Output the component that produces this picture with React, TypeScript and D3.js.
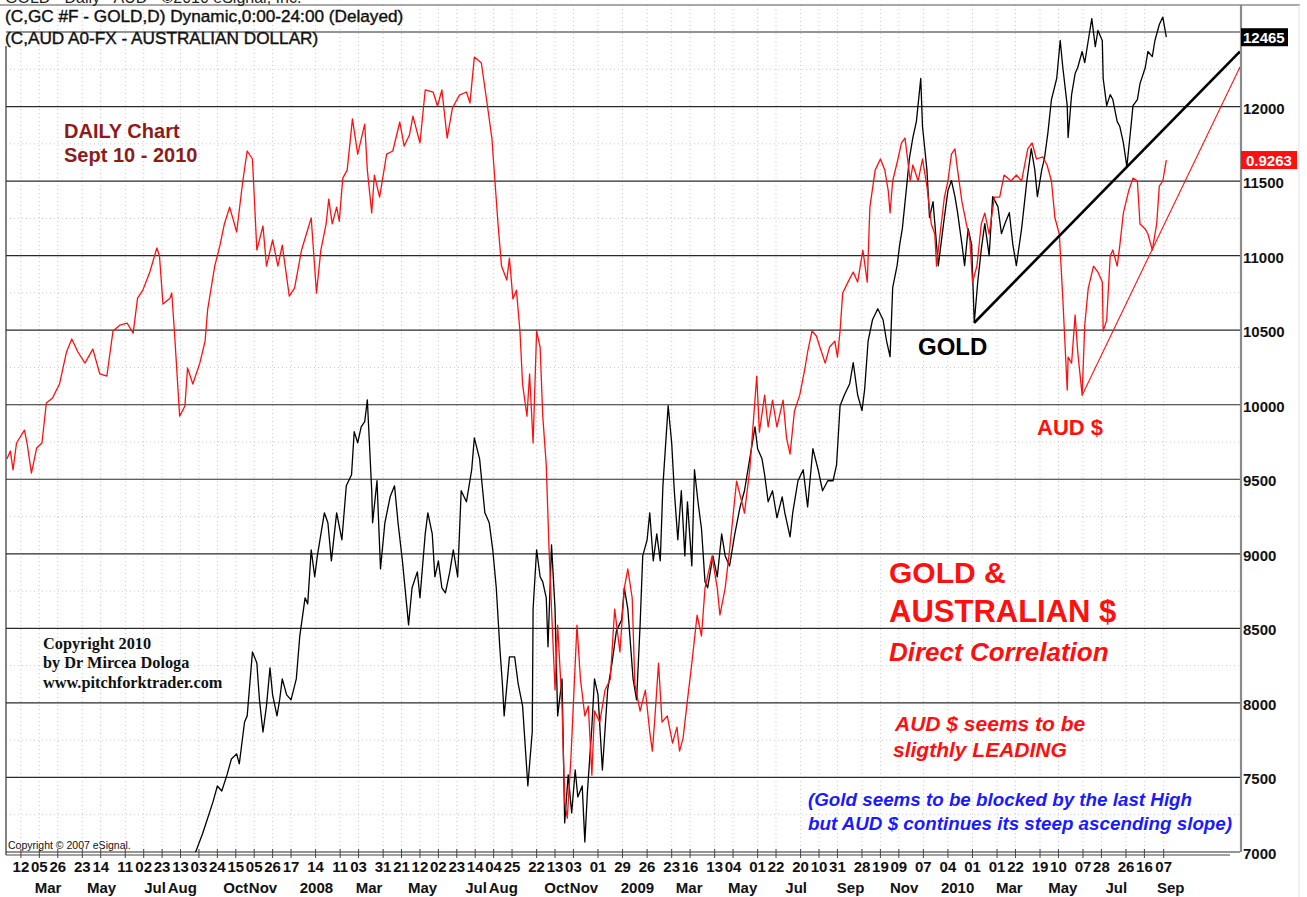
import React from "react";
import * as d3 from "d3";

// ---------- DATA ----------
// Gold futures (price x10, as on the right axis)
const goldSeries: [string, number][] = [
  ["2007-08-27", 6950], ["2007-09-07", 7121], ["2007-09-13", 7228], ["2007-09-19", 7336], ["2007-09-24", 7443],
  ["2007-09-29", 7409], ["2007-10-05", 7517], ["2007-10-10", 7624], ["2007-10-16", 7658], ["2007-10-19", 7591],
  ["2007-10-25", 7872], ["2007-10-28", 7913], ["2007-11-03", 8342], ["2007-11-08", 8268], ["2007-11-11", 8020],
  ["2007-11-15", 7805], ["2007-11-19", 7980], ["2007-11-23", 8235], ["2007-11-26", 8054], ["2007-12-01", 7913],
  ["2007-12-04", 8020], ["2007-12-07", 8161], ["2007-12-12", 8054], ["2007-12-17", 8020], ["2007-12-23", 8161],
  ["2007-12-27", 8450], ["2008-01-02", 8705], ["2008-01-05", 8664], ["2008-01-09", 9027], ["2008-01-13", 8846],
  ["2008-01-16", 8986], ["2008-01-24", 9275], ["2008-01-28", 9208], ["2008-02-01", 8953], ["2008-02-07", 9275],
  ["2008-02-13", 9094], ["2008-02-18", 9456], ["2008-02-24", 9530], ["2008-02-27", 9819], ["2008-03-02", 9745],
  ["2008-03-06", 9852], ["2008-03-10", 9886], ["2008-03-13", 10033], ["2008-03-18", 9423], ["2008-03-19", 9208],
  ["2008-03-24", 9490], ["2008-03-28", 8899], ["2008-04-02", 9208], ["2008-04-08", 9382], ["2008-04-13", 9456],
  ["2008-04-17", 9208], ["2008-04-22", 8953], ["2008-04-29", 8523], ["2008-05-03", 8772], ["2008-05-09", 8879],
  ["2008-05-12", 8705], ["2008-05-18", 9134], ["2008-05-21", 9275], ["2008-05-26", 9134], ["2008-05-29", 8846],
  ["2008-06-02", 8953], ["2008-06-06", 8772], ["2008-06-10", 8738], ["2008-06-15", 8879], ["2008-06-19", 9027],
  ["2008-06-24", 8846], ["2008-06-28", 9423], ["2008-07-04", 9349], ["2008-07-10", 9564], ["2008-07-13", 9778],
  ["2008-07-19", 9637], ["2008-07-25", 9275], ["2008-07-30", 9208], ["2008-08-03", 9027], ["2008-08-07", 8772],
  ["2008-08-11", 8376], ["2008-08-14", 8127], ["2008-08-16", 7913], ["2008-08-22", 8309], ["2008-08-28", 8309],
  ["2008-09-01", 8127], ["2008-09-06", 7980], ["2008-09-12", 7443], ["2008-09-17", 7805], ["2008-09-18", 8631],
  ["2008-09-22", 9027], ["2008-09-26", 8846], ["2008-09-29", 8812], ["2008-10-03", 8705], ["2008-10-05", 8376],
  ["2008-10-09", 9060], ["2008-10-13", 8631], ["2008-10-16", 7913], ["2008-10-21", 8161], ["2008-10-24", 7195],
  ["2008-10-28", 7517], ["2008-11-01", 7262], ["2008-11-05", 7550], ["2008-11-08", 7369], ["2008-11-13", 7443],
  ["2008-11-16", 7067], ["2008-11-19", 7409], ["2008-11-24", 7839], ["2008-11-27", 8161], ["2008-12-01", 8054],
  ["2008-12-06", 7550], ["2008-12-12", 8087], ["2008-12-17", 8268], ["2008-12-22", 8483], ["2008-12-28", 8557],
  ["2008-12-31", 8772], ["2009-01-04", 8631], ["2009-01-10", 8161], ["2009-01-14", 8020], ["2009-01-18", 8523],
  ["2009-01-21", 8986], ["2009-01-26", 9094], ["2009-01-29", 9275], ["2009-02-02", 8953], ["2009-02-06", 9134],
  ["2009-02-10", 8953], ["2009-02-13", 9456], ["2009-02-19", 9993], ["2009-02-23", 9745], ["2009-02-26", 9423],
  ["2009-03-02", 9094], ["2009-03-06", 9423], ["2009-03-10", 8986], ["2009-03-13", 9349], ["2009-03-18", 8919],
  ["2009-03-21", 9564], ["2009-03-25", 9349], ["2009-03-29", 9168], ["2009-04-02", 8812], ["2009-04-05", 8772],
  ["2009-04-11", 8986], ["2009-04-16", 8846], ["2009-04-21", 9134], ["2009-04-25", 8986], ["2009-04-30", 8919],
  ["2009-05-06", 9134], ["2009-05-12", 9315], ["2009-05-17", 9423], ["2009-05-23", 9637], ["2009-05-29", 9852],
  ["2009-06-01", 9705], ["2009-06-06", 9637], ["2009-06-09", 9530], ["2009-06-13", 9349], ["2009-06-18", 9423],
  ["2009-06-23", 9242], ["2009-06-29", 9382], ["2009-07-02", 9275], ["2009-07-08", 9114], ["2009-07-11", 9275],
  ["2009-07-17", 9490], ["2009-07-23", 9564], ["2009-07-28", 9315], ["2009-08-03", 9705], ["2009-08-09", 9564],
  ["2009-08-14", 9423], ["2009-08-20", 9490], ["2009-08-26", 9490], ["2009-08-30", 9597], ["2009-09-03", 9993],
  ["2009-09-08", 10067], ["2009-09-14", 10141], ["2009-09-18", 10282], ["2009-09-23", 10067], ["2009-09-28", 9960],
  ["2009-10-01", 10101], ["2009-10-05", 10429], ["2009-10-10", 10570], ["2009-10-16", 10644], ["2009-10-22", 10570],
  ["2009-10-26", 10429], ["2009-10-30", 10322], ["2009-11-02", 10785], ["2009-11-07", 10933], ["2009-11-10", 11074],
  ["2009-11-13", 11181], ["2009-11-18", 11470], ["2009-11-21", 11651], ["2009-11-25", 11792], ["2009-11-29", 11899],
  ["2009-12-04", 12188], ["2009-12-06", 11866], ["2009-12-11", 11577], ["2009-12-14", 11255], ["2009-12-18", 11362],
  ["2009-12-24", 10933], ["2009-12-30", 11215], ["2010-01-04", 11436], ["2010-01-08", 11503], ["2010-01-12", 11396],
  ["2010-01-15", 11288], ["2010-01-20", 11074], ["2010-01-23", 10933], ["2010-01-27", 11181], ["2010-01-31", 11074],
  ["2010-02-03", 10550], ["2010-02-07", 10825], ["2010-02-11", 11040], ["2010-02-15", 11215], ["2010-02-20", 11000],
  ["2010-02-24", 11396], ["2010-03-02", 11329], ["2010-03-06", 11147], ["2010-03-10", 11215], ["2010-03-15", 11288],
  ["2010-03-19", 11074], ["2010-03-23", 10933], ["2010-03-29", 11181], ["2010-04-04", 11503], ["2010-04-09", 11718],
  ["2010-04-13", 11577], ["2010-04-16", 11396], ["2010-04-21", 11577], ["2010-04-24", 11651], ["2010-04-28", 11825],
  ["2010-05-02", 12047], ["2010-05-08", 12188], ["2010-05-12", 12443], ["2010-05-15", 12262], ["2010-05-20", 12006],
  ["2010-05-21", 11792], ["2010-05-25", 12080], ["2010-05-29", 12221], ["2010-06-01", 12262], ["2010-06-06", 12369],
  ["2010-06-09", 12295], ["2010-06-13", 12443], ["2010-06-17", 12590], ["2010-06-21", 12402], ["2010-06-24", 12510],
  ["2010-06-29", 12443], ["2010-06-30", 12188], ["2010-07-04", 12006], ["2010-07-08", 12080], ["2010-07-11", 12047],
  ["2010-07-16", 11899], ["2010-07-19", 11866], ["2010-07-23", 11758], ["2010-07-27", 11597], ["2010-07-31", 11825],
  ["2010-08-03", 12006], ["2010-08-08", 12047], ["2010-08-11", 12154], ["2010-08-17", 12262], ["2010-08-20", 12369],
  ["2010-08-25", 12335], ["2010-08-28", 12443], ["2010-09-02", 12550], ["2010-09-06", 12600], ["2010-09-10", 12465],
];

// Australian dollar (AUD/USD)
const audSeries: [string, number][] = [
  ["2007-01-27", 0.7808], ["2007-01-31", 0.7847], ["2007-02-03", 0.7755], ["2007-02-07", 0.7886], ["2007-02-16", 0.7949],
  ["2007-02-19", 0.7886], ["2007-02-24", 0.7740], ["2007-03-02", 0.7862], ["2007-03-08", 0.7886], ["2007-03-13", 0.8081],
  ["2007-03-20", 0.8105], ["2007-03-28", 0.8173], ["2007-04-05", 0.8329], ["2007-04-11", 0.8392], ["2007-04-18", 0.8329],
  ["2007-04-26", 0.8275], ["2007-05-05", 0.8343], ["2007-05-13", 0.8222], ["2007-05-21", 0.8212], ["2007-05-28", 0.8431],
  ["2007-06-05", 0.8460], ["2007-06-13", 0.8470], ["2007-06-20", 0.8421], ["2007-06-25", 0.8591], ["2007-07-01", 0.8630],
  ["2007-07-09", 0.8718], ["2007-07-17", 0.8835], ["2007-07-20", 0.8796], ["2007-07-24", 0.8562], ["2007-08-01", 0.8591],
  ["2007-08-03", 0.8616], ["2007-08-06", 0.8431], ["2007-08-12", 0.8017], ["2007-08-18", 0.8066], ["2007-08-21", 0.8251],
  ["2007-08-27", 0.8173], ["2007-09-04", 0.8275], ["2007-09-10", 0.8382], ["2007-09-13", 0.8538], ["2007-09-21", 0.8747],
  ["2007-09-27", 0.8849], ["2007-10-02", 0.8952], ["2007-10-08", 0.9034], ["2007-10-16", 0.8913], ["2007-10-23", 0.9161],
  ["2007-10-28", 0.9307], ["2007-11-03", 0.9268], ["2007-11-08", 0.8825], ["2007-11-15", 0.8942], ["2007-11-19", 0.8747],
  ["2007-11-26", 0.8874], ["2007-12-02", 0.8747], ["2007-12-07", 0.8849], ["2007-12-15", 0.8601], ["2007-12-21", 0.8640],
  ["2007-12-29", 0.8825], ["2008-01-09", 0.8981], ["2008-01-15", 0.8616], ["2008-01-20", 0.8825], ["2008-01-26", 0.8952],
  ["2008-01-29", 0.9073], ["2008-02-02", 0.8952], ["2008-02-07", 0.9034], ["2008-02-10", 0.8966], ["2008-02-14", 0.9175],
  ["2008-02-19", 0.9214], ["2008-02-25", 0.9463], ["2008-03-02", 0.9292], ["2008-03-10", 0.9438], ["2008-03-13", 0.9214],
  ["2008-03-18", 0.9005], ["2008-03-21", 0.9190], ["2008-03-27", 0.9083], ["2008-04-04", 0.9292], ["2008-04-11", 0.9307],
  ["2008-04-19", 0.9448], ["2008-04-24", 0.9331], ["2008-04-30", 0.9385], ["2008-05-04", 0.9477], ["2008-05-12", 0.9346],
  ["2008-05-18", 0.9604], ["2008-05-27", 0.9594], ["2008-06-01", 0.9526], ["2008-06-06", 0.9604], ["2008-06-12", 0.9370],
  ["2008-06-18", 0.9516], ["2008-06-26", 0.9579], ["2008-07-04", 0.9594], ["2008-07-08", 0.9540], ["2008-07-13", 0.9764],
  ["2008-07-21", 0.9735], ["2008-07-27", 0.9555], ["2008-08-02", 0.9370], ["2008-08-05", 0.9190], ["2008-08-09", 0.8952],
  ["2008-08-13", 0.8747], ["2008-08-19", 0.8679], ["2008-08-22", 0.8786], ["2008-08-26", 0.8587], ["2008-08-30", 0.8630],
  ["2008-09-03", 0.8431], ["2008-09-06", 0.8173], ["2008-09-11", 0.8017], ["2008-09-14", 0.8222], ["2008-09-18", 0.7886],
  ["2008-09-22", 0.8431], ["2008-09-26", 0.8353], ["2008-09-29", 0.8017], ["2008-10-03", 0.7779], ["2008-10-06", 0.7390],
  ["2008-10-09", 0.7078], ["2008-10-13", 0.6684], ["2008-10-16", 0.7000], ["2008-10-21", 0.6606], ["2008-10-24", 0.6139],
  ["2008-10-27", 0.6061], ["2008-10-31", 0.6343], ["2008-11-07", 0.7000], ["2008-11-11", 0.6737], ["2008-11-16", 0.6558],
  ["2008-11-20", 0.6606], ["2008-11-24", 0.6270], ["2008-11-27", 0.6582], ["2008-12-03", 0.6528], ["2008-12-09", 0.6684],
  ["2008-12-15", 0.6737], ["2008-12-20", 0.7078], ["2008-12-26", 0.6869], ["2008-12-31", 0.7180], ["2009-01-04", 0.7273],
  ["2009-01-09", 0.7132], ["2009-01-12", 0.6713], ["2009-01-18", 0.6582], ["2009-01-24", 0.6684], ["2009-01-29", 0.6480],
  ["2009-02-01", 0.6387], ["2009-02-04", 0.6558], ["2009-02-08", 0.6815], ["2009-02-12", 0.6528], ["2009-02-18", 0.6558],
  ["2009-02-24", 0.6426], ["2009-03-01", 0.6504], ["2009-03-04", 0.6387], ["2009-03-08", 0.6450], ["2009-03-13", 0.6635],
  ["2009-03-18", 0.6815], ["2009-03-24", 0.7049], ["2009-03-29", 0.6947], ["2009-04-02", 0.7180], ["2009-04-10", 0.7336],
  ["2009-04-16", 0.7180], ["2009-04-19", 0.7049], ["2009-04-25", 0.7180], ["2009-04-30", 0.7365], ["2009-05-08", 0.7701],
  ["2009-05-14", 0.7599], ["2009-05-17", 0.7545], ["2009-05-23", 0.7755], ["2009-05-31", 0.8212], ["2009-06-03", 0.7939],
  ["2009-06-09", 0.8119], ["2009-06-13", 0.7964], ["2009-06-18", 0.8095], ["2009-06-23", 0.7964], ["2009-06-30", 0.8095],
  ["2009-07-04", 0.7910], ["2009-07-08", 0.7832], ["2009-07-13", 0.8042], ["2009-07-19", 0.8119], ["2009-07-25", 0.8251],
  ["2009-07-28", 0.8329], ["2009-08-02", 0.8431], ["2009-08-07", 0.8407], ["2009-08-11", 0.8353], ["2009-08-17", 0.8275],
  ["2009-08-22", 0.8353], ["2009-08-28", 0.8382], ["2009-08-31", 0.8304], ["2009-09-03", 0.8431], ["2009-09-06", 0.8616],
  ["2009-09-12", 0.8669], ["2009-09-18", 0.8718], ["2009-09-23", 0.8669], ["2009-09-29", 0.8825], ["2009-10-04", 0.8669],
  ["2009-10-07", 0.9034], ["2009-10-13", 0.9214], ["2009-10-19", 0.9268], ["2009-10-24", 0.9214], ["2009-10-28", 0.9112],
  ["2009-10-30", 0.9005], ["2009-11-02", 0.9161], ["2009-11-08", 0.9268], ["2009-11-12", 0.9346], ["2009-11-16", 0.9370],
  ["2009-11-19", 0.9268], ["2009-11-22", 0.9161], ["2009-11-25", 0.9239], ["2009-12-01", 0.9161], ["2009-12-06", 0.9268],
  ["2009-12-11", 0.9136], ["2009-12-16", 0.8952], ["2009-12-20", 0.8903], ["2009-12-22", 0.8747], ["2009-12-26", 0.8903],
  ["2009-12-31", 0.9083], ["2010-01-04", 0.9161], ["2010-01-08", 0.9292], ["2010-01-12", 0.9317], ["2010-01-15", 0.9214],
  ["2010-01-20", 0.9059], ["2010-01-25", 0.8952], ["2010-01-29", 0.8874], ["2010-02-01", 0.8669], ["2010-02-06", 0.8747],
  ["2010-02-11", 0.8952], ["2010-02-15", 0.9005], ["2010-02-20", 0.8903], ["2010-02-26", 0.9083], ["2010-03-04", 0.9083],
  ["2010-03-09", 0.9190], ["2010-03-17", 0.9161], ["2010-03-23", 0.9190], ["2010-03-29", 0.9161], ["2010-04-05", 0.9317],
  ["2010-04-10", 0.9346], ["2010-04-15", 0.9268], ["2010-04-22", 0.9278], ["2010-04-27", 0.9239], ["2010-05-02", 0.9161],
  ["2010-05-06", 0.8981], ["2010-05-11", 0.8903], ["2010-05-15", 0.8587], ["2010-05-20", 0.8144], ["2010-05-21", 0.8304],
  ["2010-05-25", 0.8275], ["2010-05-29", 0.8509], ["2010-06-01", 0.8329], ["2010-06-06", 0.8119], ["2010-06-09", 0.8460],
  ["2010-06-13", 0.8640], ["2010-06-19", 0.8747], ["2010-06-24", 0.8718], ["2010-06-29", 0.8669], ["2010-06-30", 0.8431],
  ["2010-07-04", 0.8484], ["2010-07-08", 0.8796], ["2010-07-11", 0.8825], ["2010-07-16", 0.8747], ["2010-07-19", 0.8849],
  ["2010-07-23", 0.9005], ["2010-07-29", 0.9112], ["2010-08-03", 0.9175], ["2010-08-08", 0.9161], ["2010-08-11", 0.8952],
  ["2010-08-17", 0.8927], ["2010-08-20", 0.8903], ["2010-08-25", 0.8825], ["2010-08-30", 0.8952], ["2010-09-02", 0.9136],
  ["2010-09-06", 0.9161], ["2010-09-10", 0.9263],
];

// Trend lines drawn on the chart
const goldTrend: [string, number][] = [["2010-02-03", 10550], ["2010-12-03", 12370]];
const audTrend: [string, number][] = [["2010-06-06", 0.8119], ["2010-12-03", 0.9716]];

// Axis ticks / labels
const priceTicks = [7000, 7500, 8000, 8500, 9000, 9500, 10000, 10500, 11000, 11500, 12000, 12500];
const dayTicks = [
  "2007-02-12", "2007-03-05", "2007-03-26", "2007-04-23", "2007-05-14", "2007-06-11", "2007-07-02", "2007-07-23",
  "2007-08-13", "2007-09-03", "2007-09-24", "2007-10-15", "2007-11-05", "2007-11-26", "2007-12-17",
  "2008-01-14", "2008-02-11", "2008-03-03", "2008-03-31", "2008-04-21", "2008-05-12", "2008-06-02", "2008-06-23",
  "2008-07-14", "2008-08-04", "2008-08-25", "2008-09-22", "2008-10-13", "2008-11-03", "2008-12-01", "2008-12-29",
  "2009-01-26", "2009-02-23", "2009-03-16", "2009-04-13", "2009-05-04", "2009-06-01", "2009-06-22", "2009-07-20",
  "2009-08-10", "2009-08-31", "2009-09-28", "2009-10-19", "2009-11-09", "2009-12-07",
  "2010-01-04", "2010-02-01", "2010-03-01", "2010-03-22", "2010-04-19", "2010-05-10", "2010-06-07", "2010-06-28",
  "2010-07-26", "2010-08-16", "2010-09-07",
];
const monthLabels: [string, string][] = [
  ["2007-03-15", "Mar"], ["2007-05-15", "May"], ["2007-07-15", "Jul"], ["2007-08-15", "Aug"], ["2007-10-15", "Oct"],
  ["2007-11-15", "Nov"], ["2008-01-15", "2008"], ["2008-03-15", "Mar"], ["2008-05-15", "May"], ["2008-07-15", "Jul"],
  ["2008-08-15", "Aug"], ["2008-10-15", "Oct"], ["2008-11-15", "Nov"], ["2009-01-15", "2009"], ["2009-03-15", "Mar"],
  ["2009-05-15", "May"], ["2009-07-15", "Jul"], ["2009-09-15", "Sep"], ["2009-11-15", "Nov"], ["2010-01-15", "2010"],
  ["2010-03-15", "Mar"], ["2010-05-15", "May"], ["2010-07-15", "Jul"], ["2010-09-15", "Sep"],
];
const lastGold = 12465;
const lastAud = 0.9263;

// ---------- CHART ----------
const W = 1307;
const H = 897;
const SANS = "'Liberation Sans', Arial, Helvetica, sans-serif";
const SERIF = "'Liberation Serif', 'Times New Roman', serif";
const RED = "#ff1010";

export default function App() {
  const left = 6, right = 1240, top = 32, bottom = 852, frameTop = 5;
  const parse = d3.utcParse("%Y-%m-%d");
  const x = d3.scaleUtc().domain([parse("2007-01-26")!, parse("2010-12-03")!]).range([left, right]);
  const y = d3.scaleLinear().domain([7000, 12500]).range([bottom, top]);
  const ya = d3.scaleLinear().domain([0.5896, 0.9886]).range([bottom, top]);

  const goldLine = d3.line<[string, number]>().x((d) => x(parse(d[0])!)).y((d) => y(d[1]));
  const audLine = d3.line<[string, number]>().x((d) => x(parse(d[0])!)).y((d) => ya(d[1]));

  const minorTicks = d3.range(7250, 12500, 500);
  // the top level label is covered by the last-price box, as in the reference
  const axisLabels = priceTicks.filter((v) => Math.abs(y(v) - y(lastGold)) > 14);

  return (
    <div style={{ position: "absolute", left: 0, top: 0, width: W, height: H, background: "#fff" }}>
      <svg width={W} height={H} viewBox={`0 0 ${W} ${H}`} style={{ display: "block" }}>
        <defs>
          <clipPath id="plot">
            <rect x={left} y={frameTop} width={right - left} height={bottom - frameTop} />
          </clipPath>
        </defs>
        <rect x={0} y={0} width={W} height={H} fill="#fff" />

        {/* dotted vertical grid */}
        {dayTicks.map((d) => (
          <line key={"vg" + d} x1={x(parse(d)!)} x2={x(parse(d)!)} y1={frameTop} y2={bottom}
            stroke="#c8c8c8" strokeWidth={1} strokeDasharray="1,3" />
        ))}
        {/* dotted horizontal minor grid */}
        {minorTicks.map((v) => (
          <line key={"mg" + v} x1={left} x2={right} y1={y(v)} y2={y(v)} stroke="#c8c8c8" strokeWidth={1} strokeDasharray="1,3" />
        ))}
        {/* solid horizontal grid */}
        {priceTicks.map((v) => (
          <line key={"g" + v} x1={left} x2={right} y1={y(v)} y2={y(v)} stroke="#2a2a2a" strokeWidth={1.2} />
        ))}

        {/* frame */}
        <line x1={0} x2={1300} y1={frameTop} y2={frameTop} stroke="#555" strokeWidth={1} />
        <line x1={left} x2={left} y1={46} y2={bottom + 3} stroke="#333" strokeWidth={1.2} />
        <line x1={left} x2={right - 10} y1={bottom + 3} y2={bottom + 3} stroke="#444" strokeWidth={1} />
        <line x1={right + 1} x2={right + 1} y1={frameTop} y2={bottom} stroke="#8a8a8a" strokeWidth={2.2} />
        <line x1={1299} x2={1299} y1={frameTop} y2={H} stroke="#e2e2e2" strokeWidth={1} />
        {dayTicks.map((d) => (
          <line key={"t" + d} x1={x(parse(d)!)} x2={x(parse(d)!)} y1={bottom - 3} y2={bottom + 6} stroke="#444" strokeWidth={1} />
        ))}

        {/* series */}
        <g clipPath="url(#plot)">
          <path d={goldLine(goldSeries) || ""} fill="none" stroke="#000" strokeWidth={1.3} strokeLinejoin="round" />
          <path d={audLine(audSeries) || ""} fill="none" stroke={RED} strokeWidth={1.3} strokeLinejoin="round" />
          <path d={goldLine(goldTrend) || ""} fill="none" stroke="#000" strokeWidth={2.6} />
          <path d={audLine(audTrend) || ""} fill="none" stroke={RED} strokeWidth={1.1} />
        </g>

        {/* header */}
        <text x={5} y={3} fontFamily={SANS} fontSize={16} fill="#222">GOLD - Daily - AUD - ©2010 eSignal, Inc.</text>
        <text x={5} y={22} fontFamily={SANS} fontSize={17.2} fill="#111" stroke="#111" strokeWidth={0.4}>
          (C,GC #F - GOLD,D) Dynamic,0:00-24:00 (Delayed)
        </text>
        <text x={5} y={44} fontFamily={SANS} fontSize={17.2} fill="#111" stroke="#111" strokeWidth={0.4}>
          (C,AUD A0-FX - AUSTRALIAN DOLLAR)
        </text>

        {/* right price axis */}
        {axisLabels.map((v) => (
          <text key={"pl" + v} x={right + 3} y={y(v) + 7} fontFamily={SANS} fontSize={15} fontWeight="bold" fill="#111">
            {v}
          </text>
        ))}
        <rect x={right + 1} y={y(lastGold) - 9} width={47} height={18} fill="#000" />
        <text x={right + 3} y={y(lastGold) + 5.5} fontFamily={SANS} fontSize={15} fontWeight="bold" fill="#fff">
          {lastGold}
        </text>
        <rect x={right + 1} y={ya(lastAud) - 9} width={56} height={18} fill={RED} />
        <text x={right + 6} y={ya(lastAud) + 5.5} fontFamily={SANS} fontSize={15} fontWeight="bold" fill="#fff">
          {lastAud.toFixed(4)}
        </text>

        {/* bottom date axis */}
        {dayTicks.map((d) => (
          <text key={"dl" + d} x={x(parse(d)!)} y={872} textAnchor="middle" fontFamily={SANS} fontSize={15}
            fontWeight="bold" fill="#111">
            {d.slice(8, 10)}
          </text>
        ))}
        {monthLabels.map(([d, l]) => (
          <text key={"ml" + d} x={x(parse(d)!)} y={893} textAnchor="middle" fontFamily={SANS} fontSize={15}
            fontWeight="bold" fill="#111">
            {l}
          </text>
        ))}

        {/* annotations */}
        <text x={64} y={138} fontFamily={SANS} fontSize={20} fontWeight="bold" fill="#8e1b1b">DAILY Chart</text>
        <text x={64} y={162} fontFamily={SANS} fontSize={20} fontWeight="bold" fill="#8e1b1b">Sept 10 - 2010</text>

        <text x={43} y={649} fontFamily={SERIF} fontSize={16.3} fontWeight="bold" fill="#111">Copyright 2010</text>
        <text x={43} y={668} fontFamily={SERIF} fontSize={16.3} fontWeight="bold" fill="#111">by Dr Mircea Dologa</text>
        <text x={43} y={688} fontFamily={SERIF} fontSize={16.3} fontWeight="bold" fill="#111">www.pitchforktrader.com</text>
        <text x={8} y={849} fontFamily={SANS} fontSize={10.5} fill="#111">Copyright © 2007 eSignal.</text>

        <text x={918} y={355} fontFamily={SANS} fontSize={24} fontWeight="bold" fill="#000">GOLD</text>
        <text x={1037} y={435} fontFamily={SANS} fontSize={22} fontWeight="bold" fill={RED}>AUD $</text>

        <text x={889} y={583} fontFamily={SANS} fontSize={30} fontWeight="bold" fill={RED}>GOLD &amp;</text>
        <text x={889} y={622} fontFamily={SANS} fontSize={31} fontWeight="bold" fill={RED}>AUSTRALIAN $</text>
        <text x={889} y={661} fontFamily={SANS} fontSize={26} fontWeight="bold" fontStyle="italic" fill={RED}>
          Direct Correlation
        </text>
        <text x={895} y={731} fontFamily={SANS} fontSize={21} fontWeight="bold" fontStyle="italic" fill={RED}>
          AUD $ seems to be
        </text>
        <text x={893} y={757} fontFamily={SANS} fontSize={21} fontWeight="bold" fontStyle="italic" fill={RED}>
          sligthly LEADING
        </text>
        <text x={808} y={806} fontFamily={SANS} fontSize={18.8} fontWeight="bold" fontStyle="italic" fill="#1a1aff">
          (Gold seems to be blocked by the last High
        </text>
        <text x={808} y={830} fontFamily={SANS} fontSize={18.8} fontWeight="bold" fontStyle="italic" fill="#1a1aff">
          but AUD $ continues its steep ascending slope)
        </text>
      </svg>
    </div>
  );
}
